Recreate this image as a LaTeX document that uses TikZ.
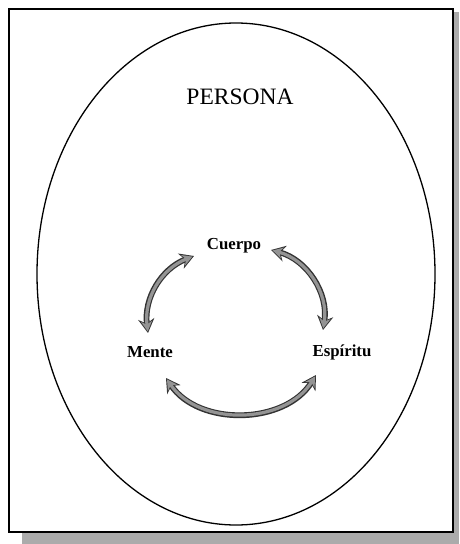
\documentclass[tikz,border=0pt]{standalone}
\usepackage{fontspec}
\setmainfont{Liberation Serif}
\usetikzlibrary{arrows.meta,shapes.geometric}
\begin{document}
\begin{tikzpicture}[x=1pt,y=-1pt,
  shadowfill/.style={fill=black!33,draw=none},
  frameline/.style={draw=black,line width=1.8pt},
  ovalline/.style={draw=black,line width=1.3pt},
  lbl/.style={font=\fontsize{16.8}{18}\selectfont\bfseries,inner sep=1pt},
  titlelbl/.style={font=\fontsize{23.5}{26}\selectfont,inner sep=1pt},
  arrouter/.style={line width=5.8pt,draw=black!80,
    arrows={Stealth[length=14pt,width=16pt,inset=4.5pt]-Stealth[length=14pt,width=16pt,inset=4.5pt]}},
  arrinner/.style={line width=3.2pt,draw=black!42,shorten <=1.7pt,shorten >=1.7pt,
    arrows={Stealth[length=10pt,width=11pt,inset=3.2pt]-Stealth[length=10pt,width=11pt,inset=3.2pt]}}
]
\useasboundingbox (0,0) rectangle (459,544);
\fill[white] (0,0) rectangle (459,544);
% shadow
\path[shadowfill] (22,532) rectangle (459,544);
\path[shadowfill] (453,12) rectangle (459,544);
% frame
\path[frameline,fill=white] (9,9) rectangle (453,532);
% ellipse
\node[ovalline,ellipse,minimum width=398pt,minimum height=502pt,inner sep=0pt] (oval) at (236,274) {};
% labels
\node[titlelbl] (title) at (240,97) {PERSONA};
\node[lbl] (cuerpo) at (234,246) {Cuerpo};
\node[lbl] (mente) at (150,352) {Mente};
\node[lbl] (espiritu) at (342,352) {Espíritu};
% arrow end coordinates
\coordinate (aL1) at (148,333);
\coordinate (aL2) at (194,256);
\coordinate (aR1) at (271,250);
\coordinate (aR2) at (323,330);
\coordinate (aB1) at (166,378);
\coordinate (aB2) at (316,375);
% arrows
\draw[arrouter] (aL1) to[bend left=38] (aL2);
\draw[arrinner] (aL1) to[bend left=38] (aL2);
\draw[arrouter] (aR1) to[bend left=42] (aR2);
\draw[arrinner] (aR1) to[bend left=42] (aR2);
\draw[arrouter] (aB1) to[bend right=57] (aB2);
\draw[arrinner] (aB1) to[bend right=57] (aB2);
\end{tikzpicture}
\end{document}
